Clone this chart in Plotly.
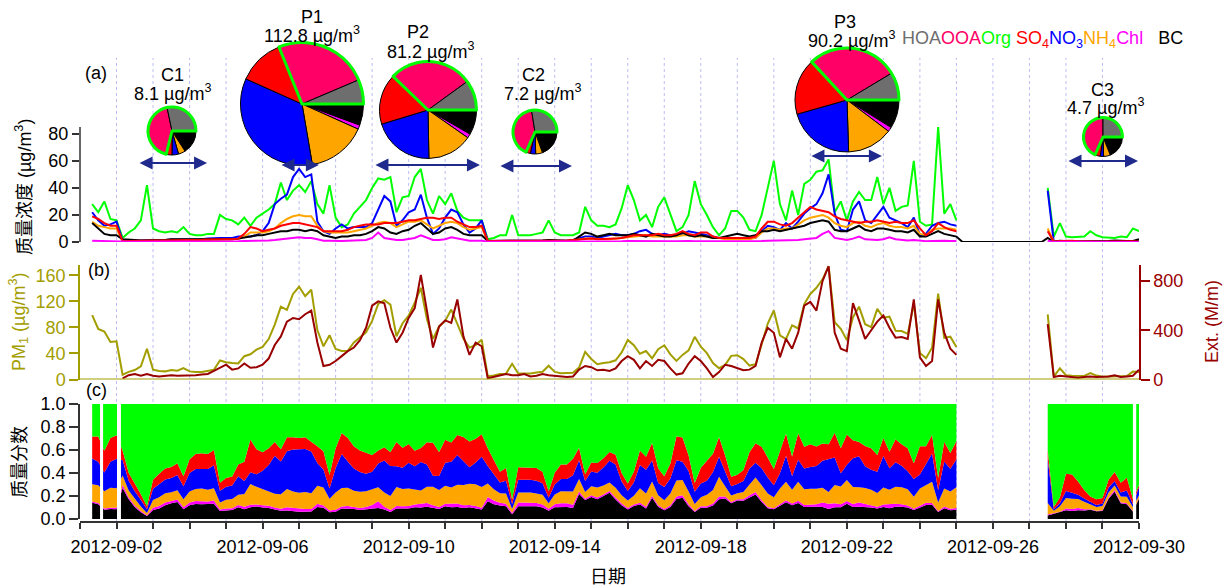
import pandas as pd
import plotly.graph_objects as go

N = None

# ---------------------------------------------------------------- data
# 4-hourly series, 2012-09-01 00:00 .. 2012-09-30 00:00 (6 values per day)
times = pd.date_range("2012-09-01", "2012-09-30", freq="4h")

org = [
    N, N, 28, 22, 30, 17,          # 09-01
    16, 3, 7, 10, 16, 42,          # 09-02
    10, 8, 7, 8, 7, 11,            # 09-03
    6, 5, 5, 6, 6, 20,             # 09-04
    17, 16, 13, 18, 12, 18,        # 09-05
    21, 24, 28, 44, 31, 38,        # 09-06
    42, 37, 45, 28, 21, 42,        # 09-07
    18, 11, 13, 21, 26, 31,        # 09-08
    40, 47, 46, 48, 22, 33,        # 09-09
    34, 48, 54, 31, 21, 34,        # 09-10
    28, 36, 23, 18, 16, 16,        # 09-11
    16, 2, 3, 5, 5, 20,            # 09-12
    5, 5, 5, 6, 7, 16,             # 09-13
    7, 5, 5, 5, 7, 26,             # 09-14
    16, 12, 12, 11, 13, 25,        # 09-15
    42, 31, 16, 20, 11, 26,        # 09-16
    33, 20, 8, 11, 20, 45,         # 09-17
    28, 20, 11, 5, 10, 23,         # 09-18
    23, 18, 9, 8, 20, 40,          # 09-19
    60, 28, 16, 38, 20, 43,        # 09-20
    46, 52, 53, 61, 22, 30,        # 09-21
    16, 30, 37, 31, 31, 48,        # 09-22
    28, 40, 23, 26, 27, 60,        # 09-23
    15, 12, 13, 85, 21, 28,        # 09-24
    16, N, N, N, N, N,             # 09-25
    N, N, N, N, N, N,              # 09-26
    N, N, N, 40, 4, 14,            # 09-27
    4, 3.5, 3.5, 4, 8, 5,          # 09-28
    3.5, 3, 3, 4, 3.5, 10,         # 09-29
    8,                             # 09-30
]

so4 = [
    N, N, 19, 17, 14, 12,
    12, 0.6, 0.8, 1, 1, 1.2,
    1.2, 1.2, 1.2, 1.4, 1.4, 1.5,
    1.5, 1.5, 1.6, 1.8, 2, 2,
    2, 2, 2.5, 6, 11, 10,
    8, 9, 10, 12, 13, 14,
    14, 13, 12, 11, 8, 8,
    8, 8, 9, 11, 12, 13,
    13, 13, 14, 14, 14, 15,
    16, 16, 17, 18, 18, 17,
    18, 18, 15, 13, 11, 11,
    12, 0.8, 0.8, 0.8, 1, 1,
    1, 1, 1, 1.2, 1.2, 1.2,
    1.2, 1.2, 1.2, 1.5, 2, 2.5,
    2.5, 2, 2, 2, 2.5, 3,
    4, 5, 5, 5, 5, 6,
    5, 5, 6, 8, 6, 5,
    7, 7, 4, 3, 3, 3,
    3, 3, 3, 4, 10, 15,
    15, 13, 12, 14, 18, 22,
    26, 24, 23, 22, 19, 17,
    16, 15, 14, 15, 15, 16,
    15, 14, 15, 14, 14, 16,
    10, 5, 8, 14, 11, 9,
    8, N, N, N, N, N,
    N, N, N, N, N, N,
    N, N, N, 8, 0.1, 0.8,
    1, 0.9, 0.6, 0.4, 0.5, 0.3,
    0.2, 0.3, 0.4, 0.5, 0.6, 0.6,
    0.2,
]

no3 = [
    N, N, 22, 16, 12, 13,
    15, 1, 1, 1, 1.2, 1.5,
    1.5, 1.5, 1.5, 1.8, 1.8, 2,
    2, 2, 2, 2.5, 3, 3,
    3, 3, 4, 4, 4, 5,
    8, 14, 28, 32, 35, 48,
    54, 48, 50, 15, 8, 6,
    10, 13, 10, 11, 11, 11,
    14, 24, 34, 30, 12, 16,
    22, 24, 35, 18, 6, 10,
    18, 24, 22, 13, 7, 10,
    16, 0.8, 0.8, 0.8, 1, 1,
    1, 1, 1, 1.2, 1.2, 1,
    1, 1, 1, 1.5, 3, 4,
    4, 3, 4, 5, 6, 5,
    5, 6, 8, 9, 6, 5,
    6, 5, 5, 6, 8, 7,
    6, 5, 4, 3, 3, 3,
    3, 3, 3, 3, 8, 12,
    11, 9, 14, 10, 15, 21,
    25, 28, 36, 50, 21, 9,
    8, 24, 30, 16, 14, 20,
    26, 18, 16, 14, 11, 18,
    5, 6, 12, 14, 15, 13,
    12, N, N, N, N, N,
    N, N, N, N, N, N,
    N, N, N, 38, 0.05, 0.5,
    0.4, 0.3, 0.2, 0.15, 0.2, 0.1,
    0.1, 0.2, 0.2, 0.2, 0.3, 0.3,
    0.8,
]

nh4 = [
    N, N, 15, 12, 11, 10,
    10, 0.6, 0.7, 0.8, 0.8, 1,
    1, 1, 1, 1.1, 1.1, 1.2,
    1.2, 1.2, 1.3, 1.4, 1.6, 1.8,
    2, 2, 2.2, 4, 7, 7,
    7, 8, 10, 14, 17, 19,
    20, 19, 19, 12, 8, 7,
    7, 7, 7, 8, 9, 10,
    12, 14, 15, 14, 11, 13,
    15, 15, 16, 13, 10, 12,
    14, 15, 14, 11, 9, 10,
    11, 0.6, 0.6, 0.7, 0.8, 0.8,
    0.8, 0.8, 0.8, 0.9, 1, 1,
    1, 1, 1, 1.2, 2, 2.5,
    2.5, 2, 2, 2, 2.5, 3,
    4, 4, 5, 5, 4, 4,
    4, 4, 4, 5, 5, 4,
    4, 4, 3, 3, 2, 2,
    2, 2, 2, 3, 7, 10,
    10, 9, 10, 10, 13, 16,
    18, 19, 20, 18, 14, 12,
    11, 14, 15, 12, 11, 13,
    14, 12, 11, 11, 10, 12,
    6, 5, 9, 10, 10, 10,
    9, N, N, N, N, N,
    N, N, N, N, N, N,
    N, N, N, 10, 0.1, 0.8,
    0.6, 0.5, 0.4, 0.35, 0.4, 0.2,
    0.15, 0.2, 0.2, 0.3, 0.3, 0.4,
    0.3,
]

chl = [
    N, N, 1, 0.8, 0.8, 0.7,
    0.7, 0.2, 0.2, 0.2, 0.2, 0.3,
    0.3, 0.3, 0.3, 0.3, 0.3, 0.3,
    0.3, 0.3, 0.3, 0.3, 0.4, 0.4,
    0.4, 0.4, 0.5, 0.8, 0.8, 0.8,
    1, 1.2, 1.5, 2, 3, 3.5,
    3.5, 3, 3, 2, 1, 1,
    0.8, 0.8, 1, 1, 1.2, 1.5,
    3, 7, 3, 2, 1.5, 1.5,
    2, 3, 5, 3, 1.5, 1.5,
    2, 3.5, 2.5, 1.5, 1, 1,
    1, 0.2, 0.2, 0.2, 0.2, 0.3,
    0.3, 0.3, 0.3, 0.3, 0.3, 0.4,
    0.3, 0.3, 0.3, 0.3, 0.4, 0.5,
    0.5, 0.4, 0.4, 0.4, 0.5, 0.6,
    0.8, 0.7, 0.6, 0.7, 0.6, 0.6,
    0.6, 0.6, 0.6, 0.8, 0.7, 0.6,
    0.6, 0.5, 0.4, 0.4, 0.4, 0.4,
    0.4, 0.4, 0.4, 0.5, 0.8, 1,
    1, 1, 1.2, 1.2, 1.5, 2,
    2.5, 3, 6, 8, 3, 2,
    1.5, 2.5, 4, 2, 1.5, 1.5,
    2, 3.5, 2, 1.5, 1.2, 1.5,
    0.8, 0.6, 0.8, 1, 1, 0.8,
    0.8, N, N, N, N, N,
    N, N, N, N, N, N,
    N, N, N, 1, 0.02, 0.1,
    0.1, 0.1, 0.1, 0.05, 0.05, 0.03,
    0.03, 0.05, 0.08, 0.05, 0.05, 0.05,
    0.05,
]

bc = [
    N, N, 14, 10, 6, 5,
    5, 2, 2, 1.5, 1.2, 1.2,
    1.2, 1.2, 1.5, 2, 2, 1.5,
    1.5, 1.5, 1.5, 1.8, 2, 2,
    2, 2, 2.5, 3, 4, 5,
    5, 6, 7, 8, 8, 9,
    9, 8, 9, 8, 5, 4,
    3, 4, 4, 5, 5, 6,
    8, 11, 10, 7, 6, 8,
    9, 12, 14, 10, 6, 7,
    10, 11, 9, 6, 5, 5,
    5, 0.8, 0.8, 1, 1, 1,
    1, 1, 1, 1.2, 1.2, 1.5,
    1.2, 1, 1, 1, 4, 7,
    6, 4, 5, 6, 5, 5,
    5, 6, 5, 4, 6, 5,
    4, 4, 5, 7, 5, 4,
    5, 4, 3, 3, 4, 5,
    6, 5, 4, 5, 8, 8,
    9, 8, 9, 10, 11, 12,
    14, 15, 16, 15, 9, 8,
    8, 10, 12, 9, 8, 10,
    10, 9, 8, 8, 7, 9,
    4, 4, 6, 8, 6, 5,
    4, 0, 0, 0, 0, 0,
    0, 0, 0, 0, 0, 0,
    0, 0, 0, 3, 0.2, 1,
    0.5, 0.4, 0.4, 0.4, 0.8, 0.4,
    0.3, 0.8, 1.2, 0.8, 0.7, 0.8,
    2,
]

# light extinction (Mm-1)
ext = [
    N, N, N, N, N, N,
    N, 10, 35, 45, 30, 45,
    30, 25, 30, 35, 30, 30,
    30, 35, 40, 45, 70, 95,
    120, 80, 90, 130, 95, 100,
    120, 170, 280, 350, 470, 500,
    490, 530, 560, 300, 110, 120,
    150, 190, 230, 260, 320, 420,
    600, 635, 620, 420, 300, 380,
    500, 580, 850, 560, 260, 430,
    480, 460, 650, 350, 200, 300,
    270, 10, 20, 30, 45, 35,
    35, 45, 25, 30, 45, 35,
    30, 25, 20, 25, 80, 110,
    100, 75, 80, 70, 90, 150,
    190, 160, 90, 150, 110, 160,
    150, 90, 40, 50, 130, 190,
    150, 90, 20, 60, 120, 110,
    90, 75, 80, 110, 300, 420,
    380, 180, 330, 250, 380, 600,
    630, 560, 800, 920, 380, 250,
    230, 620, 480, 330, 400, 470,
    520, 420, 340, 345, 330, 650,
    180, 110, 150, 650, 380, 250,
    200, N, N, N, N, N,
    N, N, N, N, N, N,
    N, N, N, 450, 20, 30,
    25, 20, 15, 20, 25, 20,
    20, 25, 35, 20, 25, 30,
    80,
]

# short instrument outages (white stripes in the fraction panel)
outages = [
    ("2012-09-01 13:10", "2012-09-01 15:10"),
    ("2012-09-02 00:20", "2012-09-02 02:55"),
    ("2012-09-29 20:00", "2012-09-29 22:10"),
]

# episode / clean periods with their average composition (%)
period_names = ["C1", "P1", "P2", "C2", "P3", "C3"]
period_totals = ["8.1", "112.8", "81.2", "7.2", "90.2", "4.7"]
period_start = ["2012-09-02 14:10", "2012-09-06 11:30", "2012-09-09 01:10",
                "2012-09-12 11:20", "2012-09-20 23:45", "2012-09-28 00:40"]
period_end = ["2012-09-04 11:30", "2012-09-07 13:00", "2012-09-11 22:50",
              "2012-09-14 11:20", "2012-09-22 23:00", "2012-09-29 23:20"]
pie_labels = ["HOA", "OOA", "SO4", "NO3", "NH4", "Chl", "BC"]
pie_fractions = [
    [28.3, 42.8, 3.9, 4.4, 4.7, 0.3, 15.6],    # C1
    [6.4, 24.7, 12.2, 34.4, 15.6, 1.1, 5.6],   # P1
    [10.0, 27.8, 16.9, 20.6, 15.0, 1.4, 8.3],  # P2
    [27.5, 40.8, 3.3, 3.9, 5.0, 0.3, 19.2],    # C2
    [8.6, 28.3, 17.5, 21.1, 14.2, 1.4, 8.9],   # P3
    [25.0, 43.3, 4.4, 2.8, 5.6, 0.3, 18.6],    # C3
]

# ---------------------------------------------------------------- styling
GREEN, RED, BLUE, ORANGE = "#00FF00", "#FF0000", "#0000FF", "#FFA500"
MAGENTA, BLACK, GRAY, PINK = "#FF00FF", "#000000", "#6E6E6E", "#FF0066"
OLIVE, DARKRED, NAVY, AXIS = "#A39E00", "#990000", "#1F2A8C", "#333333"
GRID = "#BDBDF2"
pie_colors = [GRAY, PINK, RED, BLUE, ORANGE, MAGENTA, BLACK]
FONT = "Liberation Sans, Arial, Noto Sans CJK SC, sans-serif"

W, H = 1228, 587
ML, MR, MT, MB = 80, 89, 0, 65
PW, PH = W - ML - MR, H - MT - MB


def fx(px):
    return (px - ML) / PW


def fy(py):
    return (MT + PH - py) / PH


dom_a = [fy(242), fy(58)]
dom_b = [fy(379.5), fy(265)]
dom_c = [fy(519), fy(404)]

fig = go.Figure()

# ---------------------------------------------------------------- (a) mass concentrations
for vals, col in [(org, GREEN), (no3, BLUE), (nh4, ORANGE), (bc, BLACK),
                  (so4, RED), (chl, MAGENTA)]:
    fig.add_trace(go.Scatter(x=times, y=vals, mode="lines", yaxis="y",
                             line=dict(color=col, width=2), connectgaps=False,
                             hoverinfo="skip", showlegend=False))

# ---------------------------------------------------------------- (b) PM1 and extinction
components = list(zip(org, so4, no3, nh4, chl, bc))
pm1 = [None if any(v is None for v in c) else sum(c) for c in components]

fig.add_trace(go.Scatter(x=times, y=pm1, mode="lines", yaxis="y2",
                         line=dict(color=OLIVE, width=2), hoverinfo="skip",
                         showlegend=False))
fig.add_trace(go.Scatter(x=times, y=ext, mode="lines", yaxis="y4",
                         line=dict(color=DARKRED, width=2), hoverinfo="skip",
                         showlegend=False))

# ---------------------------------------------------------------- (c) mass fractions (stacked)
stack = [(bc, BLACK), (chl, MAGENTA), (nh4, ORANGE), (no3, BLUE), (so4, RED), (org, GREEN)]
segments, cur = [], []
for i, tot in enumerate(pm1):
    if tot:
        cur.append(i)
    elif cur:
        segments.append(cur)
        cur = []
if cur:
    segments.append(cur)

for seg in segments:
    xs = [times[i] for i in seg]
    cum = [0.0] * len(seg)
    for k, (vals, col) in enumerate(stack):
        cum = [c + vals[i] / pm1[i] for c, i in zip(cum, seg)]
        fig.add_trace(go.Scatter(x=xs, y=list(cum), mode="lines", yaxis="y3",
                                 line=dict(width=0, color=col),
                                 fill="tozeroy" if k == 0 else "tonexty",
                                 fillcolor=col, hoverinfo="skip", showlegend=False))

# ---------------------------------------------------------------- shapes
shapes = []
for day in pd.date_range("2012-09-02", "2012-09-29", freq="D"):
    shapes.append(dict(type="line", xref="x", yref="paper", x0=day, x1=day,
                       y0=0, y1=fy(58), layer="below",
                       line=dict(color=GRID, width=1, dash="dot")))
for t0, t1 in outages:
    shapes.append(dict(type="rect", xref="x", yref="paper", x0=t0, x1=t1,
                       y0=dom_c[0], y1=dom_c[1] + 0.002, layer="above",
                       fillcolor="white", line=dict(width=0)))
# left axis line of panel (a), only up to the labelled range
shapes.append(dict(type="line", xref="paper", yref="y", x0=0, x1=0, y0=0, y1=85,
                   line=dict(color=AXIS, width=1.5)))
# zero line of panel (b)
shapes.append(dict(type="line", xref="paper", yref="y2", x0=0, x1=1, y0=0, y1=0,
                   line=dict(color=OLIVE, width=2)))

# ---------------------------------------------------------------- pies
# layout of each pie: centre x, centre y, radius, name xy, value xy, arrow y (pixels)
pie_layout = [
    (172, 131, 24, (172, 75), (172, 93), 163),
    (302, 104, 61.5, (312, 17), (312, 34), 165),
    (428, 110, 48.5, (418, 32), (430, 50), 165),
    (535, 132, 22, (533, 75), (542, 93), 166),
    (847, 100, 52, (845, 22), (851, 40), 156),
    (1103, 137, 19.5, (1102, 90), (1105, 107), 161),
]


def text_ann(txt, px, py, size=18, color="black", angle=0, xanchor="center"):
    return dict(x=fx(px), y=fy(py), xref="paper", yref="paper", text=txt,
                xanchor=xanchor, yanchor="middle", textangle=angle,
                showarrow=False, font=dict(size=size, color=color))


annotations = []
for name, tot, t0, t1, fr, (cx, cy, r, nxy, vxy, ay) in zip(
        period_names, period_totals, period_start, period_end, pie_fractions, pie_layout):
    dom = dict(x=[fx(cx - r), fx(cx + r)], y=[fy(cy + r), fy(cy - r)])
    # slices run counter-clockwise from 3 o'clock: HOA, OOA, SO4, ... BC
    fig.add_trace(go.Pie(values=fr[::-1], labels=pie_labels[::-1], sort=False,
                         direction="clockwise", rotation=90,
                         marker=dict(colors=pie_colors[::-1],
                                     line=dict(color="black", width=1)),
                         textinfo="none", hoverinfo="skip", domain=dom, showlegend=False))
    org_share = fr[0] + fr[1]
    fig.add_trace(go.Pie(values=[100 - org_share, org_share], labels=["Inorg", "Org"],
                         sort=False, direction="clockwise", rotation=90,
                         marker=dict(colors=["rgba(0,0,0,0)", "rgba(0,0,0,0)"],
                                     line=dict(color=["rgba(0,0,0,0)", GREEN], width=[0, 3])),
                         textinfo="none", hoverinfo="skip", domain=dom, showlegend=False))
    annotations.append(text_ann(name, *nxy))
    annotations.append(text_ann(f"{tot} µg/m<sup>3</sup>", *vxy))
    ya = (242 - ay) / 1.353
    annotations.append(dict(x=t1, y=ya, xref="x", yref="y", ax=t0, ay=ya,
                            axref="x", ayref="y", text="", showarrow=True,
                            arrowside="end+start", arrowhead=2, startarrowhead=2,
                            arrowsize=1.3, startarrowsize=1.3, arrowwidth=2,
                            arrowcolor=NAVY, standoff=0, startstandoff=0))

legend_text = (
    f'<span style="color:{GRAY}">HOA</span>'
    f'<span style="color:{PINK}">OOA</span>'
    f'<span style="color:{GREEN}">Org</span>\u00a0'
    f'<span style="color:{RED}">SO<sub>4</sub></span>'
    f'<span style="color:{BLUE}">NO<sub>3</sub></span>'
    f'<span style="color:{ORANGE}">NH<sub>4</sub></span>'
    f'<span style="color:{MAGENTA}">Chl</span>\u00a0\u00a0\u00a0'
    f'<span style="color:{BLACK}">BC</span>'
)
annotations.append(text_ann(legend_text, 900, 40, xanchor="left"))

# panel letters
for lab, px, py in [("(a)", 96, 73), ("(b)", 99, 270), ("(c)", 96, 390)]:
    annotations.append(text_ann(lab, px, py))

# axis titles
annotations.append(text_ann("质量浓度 (µg/m<sup>3</sup>)", 23, 187, angle=-90))
annotations.append(text_ann("PM<sub>1</sub> (µg/m<sup>3</sup>)", 18, 322, color=OLIVE, angle=-90))
annotations.append(text_ann("Ext. (M/m)", 1212, 322, color=DARKRED, angle=-90))
annotations.append(text_ann("质量分数", 20, 462, angle=-90))
annotations.append(text_ann("日期", 608, 577))

# ---------------------------------------------------------------- axes
day_ticks = list(pd.date_range("2012-09-01", "2012-09-30", freq="D"))
day_text = [d.strftime("%Y-%m-%d") if (d.day - 2) % 4 == 0 else "" for d in day_ticks]

fig.update_layout(
    width=W, height=H,
    margin=dict(l=ML, r=MR, t=MT, b=MB, autoexpand=False),
    paper_bgcolor="white", plot_bgcolor="white",
    font=dict(family=FONT, size=18, color="black"),
    showlegend=False,
    shapes=shapes,
    annotations=annotations,
    xaxis=dict(type="date", range=["2012-09-01", "2012-09-30"], anchor="free", position=0,
               tickvals=day_ticks, ticktext=day_text, ticks="outside", ticklen=6,
               tickwidth=1.5, tickcolor=AXIS, showline=True, linecolor=AXIS, linewidth=1.5,
               showgrid=False, zeroline=False, tickfont=dict(size=18),
               ticklabelstandoff=3),
    yaxis=dict(domain=dom_a, range=[0, 136], anchor="x", tickvals=[0, 20, 40, 60, 80],
               ticks="outside", ticklen=7, tickwidth=1.5, tickcolor=AXIS, showline=False,
               showgrid=False, zeroline=False, tickfont=dict(size=18)),
    yaxis2=dict(domain=dom_b, range=[0, 176], anchor="x", tickvals=[0, 40, 80, 120, 160],
                ticks="outside", ticklen=9, tickwidth=1.5, tickcolor=OLIVE, showline=True,
                linecolor=OLIVE, linewidth=1.5, showgrid=False, zeroline=False,
                tickfont=dict(size=18, color=OLIVE)),
    yaxis4=dict(overlaying="y2", side="right", anchor="x", range=[0, 930],
                tickvals=[0, 400, 800], ticks="outside", ticklen=9, tickwidth=1.5,
                tickcolor=DARKRED, showline=True, linecolor=DARKRED, linewidth=1.5,
                showgrid=False, zeroline=False, tickfont=dict(size=18, color=DARKRED)),
    yaxis3=dict(domain=dom_c, range=[0, 1], anchor="x",
                tickvals=[0, 0.2, 0.4, 0.6, 0.8, 1.0],
                ticktext=["0.0", "0.2", "0.4", "0.6", "0.8", "1.0"],
                ticks="outside", ticklen=9, tickwidth=1.5, tickcolor=AXIS, showline=True,
                linecolor=AXIS, linewidth=1.5, showgrid=False, zeroline=False,
                tickfont=dict(size=18)),
)

fig.write_html("out.html", config={"displayModeBar": False})
